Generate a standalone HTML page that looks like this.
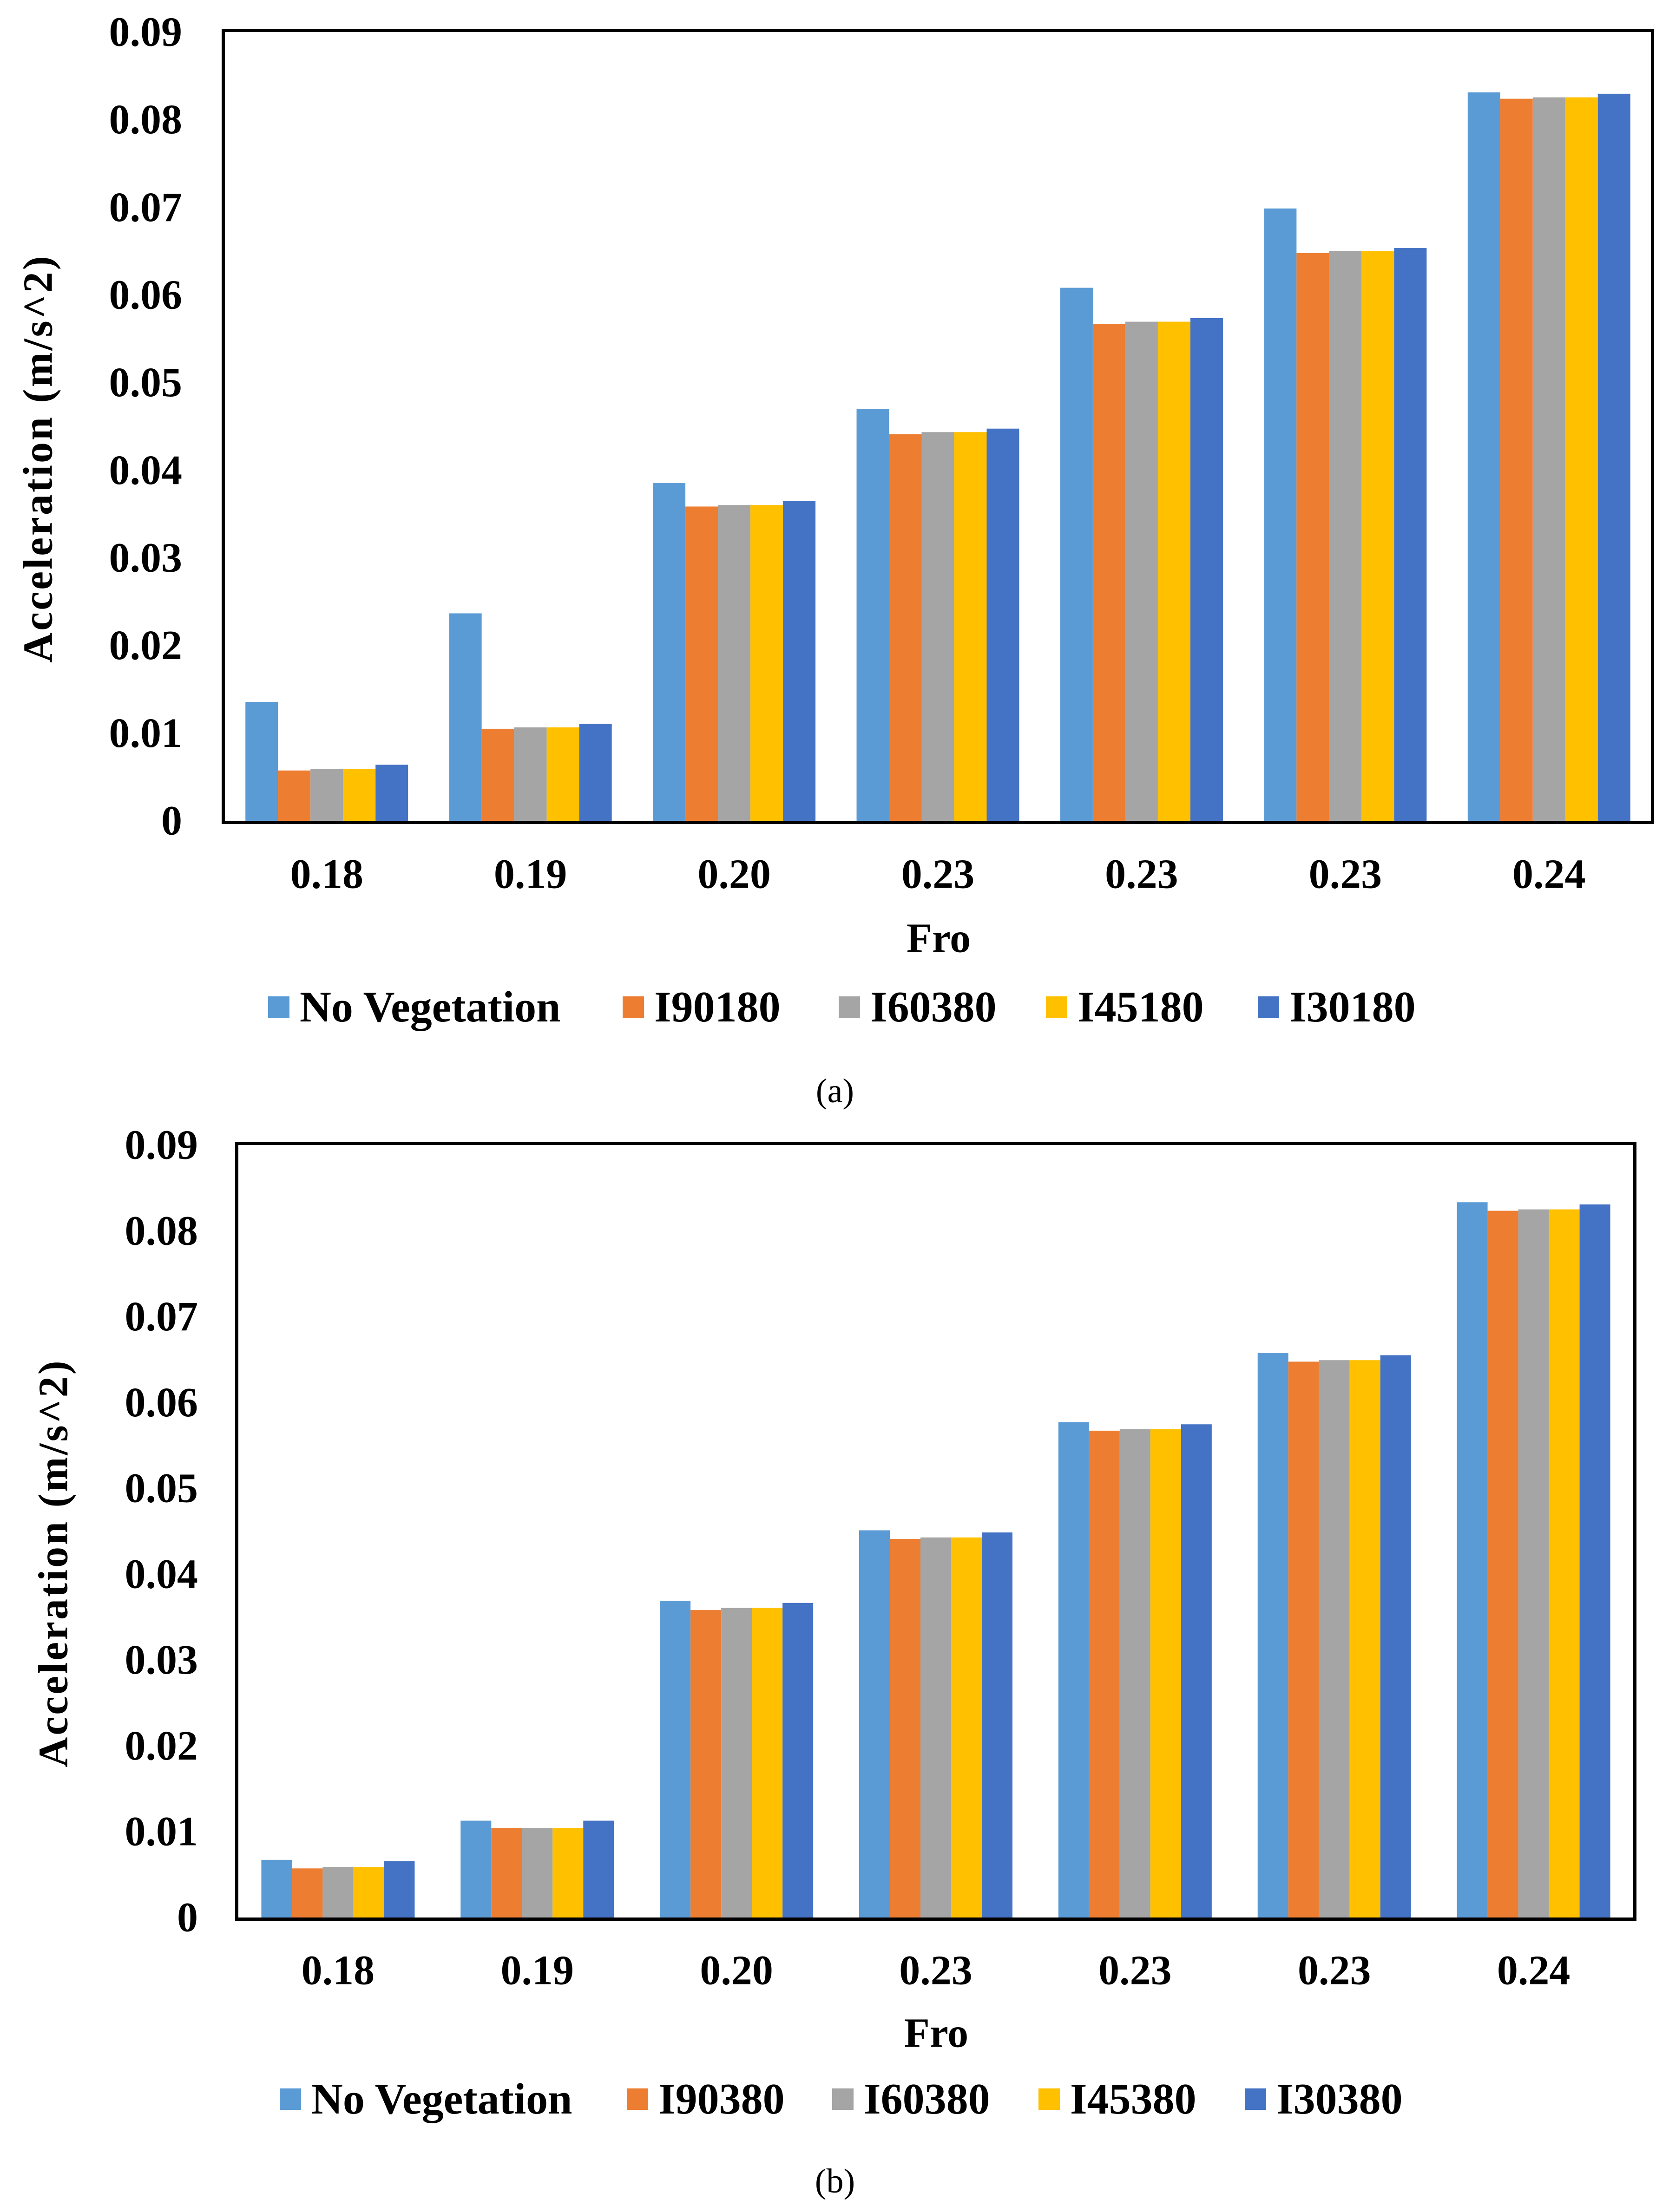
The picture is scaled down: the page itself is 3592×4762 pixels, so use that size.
<!DOCTYPE html>
<html><head><meta charset="utf-8"><style>
body{margin:0;background:#fff;width:3592px;height:4762px;overflow:hidden}
svg{display:block}
svg text{font-family:"Liberation Serif","Times New Roman",serif;font-weight:bold;fill:#000}
svg text.cap{font-weight:normal}
</style></head><body>
<svg id="s" width="3592" height="4762">
<text class="cap" x="1797" y="2356" font-size="74" text-anchor="middle" dominant-baseline="middle">(a)</text>
<text class="cap" x="1797" y="4703" font-size="74" text-anchor="middle" dominant-baseline="middle">(b)</text>
</svg>
<script>
const categories = ["0.18","0.19","0.20","0.23","0.23","0.23","0.24"];
const yTicks = [0,0.01,0.02,0.03,0.04,0.05,0.06,0.07,0.08,0.09];
const yTickLabels = ["0","0.01","0.02","0.03","0.04","0.05","0.06","0.07","0.08","0.09"];
const colors = ["#5b9bd5","#ed7d31","#a5a5a5","#ffc000","#4472c4"];
const seriesNamesA = ["No Vegetation","I90180","I60380","I45180","I30180"];
const seriesNamesB = ["No Vegetation","I90380","I60380","I45380","I30380"];
const a_noVeg = [0.01357,0.02367,0.03853,0.04701,0.06082,0.06987,0.08312];
const a_i90 = [0.00574,0.0105,0.03586,0.0441,0.0567,0.06478,0.08239];
const a_i60 = [0.0059,0.01066,0.03603,0.04435,0.05695,0.06502,0.08255];
const a_i45 = [0.0059,0.01066,0.03603,0.04435,0.05695,0.06502,0.08255];
const a_i30 = [0.0064,0.01107,0.03651,0.04475,0.05735,0.06535,0.08296];
const b_noVeg = [0.00672,0.01128,0.0369,0.04511,0.05771,0.06575,0.08333];
const b_i90 = [0.00572,0.01045,0.03582,0.04411,0.05672,0.06476,0.08234];
const b_i60 = [0.00589,0.01045,0.03607,0.04428,0.05688,0.06493,0.0825];
const b_i45 = [0.00589,0.01045,0.03607,0.04428,0.05688,0.06493,0.0825];
const b_i30 = [0.00655,0.01128,0.03665,0.04486,0.05746,0.06551,0.08308];

const svg = document.getElementById('s');
const NS = 'http://www.w3.org/2000/svg';
function mk(tag, attrs, parent){const e=document.createElementNS(NS,tag);for(const k in attrs)e.setAttribute(k,attrs[k]);(parent||svg).appendChild(e);return e;}

function chart(cfg, series, names, id){
  const g = mk('g',{});
  
  
  const {x0,x1,y0,y1} = cfg;
  const yS = v => y1 - v/0.09*(y1-y0);
  const cw = (x1-x0)/categories.length;
  const bw = cfg.bw;
  const pad = (cw - bw*5)/2;
  series.forEach((arr, si)=>{
    arr.forEach((v, ci)=>{
      const r = mk('rect',{x:x0+ci*cw+pad+si*bw, y:yS(v), width:bw, height:y1-yS(v), fill:colors[si]}, g);
      
      
    });
  });
  const frame = mk('rect',{x:x0-3.5,y:y0-3.5,width:x1-x0+7,height:y1-y0+7,fill:'none',stroke:'#000','stroke-width':7}, g);
  
  
  yTicks.forEach((t,i)=>{
    const tx = mk('text',{x:cfg.tickX, y:yS(t), 'font-size':90, 'text-anchor':'end','dominant-baseline':'central'}, g);
    tx.textContent = yTickLabels[i];
    
    
  });
  categories.forEach((c,ci)=>{
    const tx = mk('text',{x:x0+ci*cw+cw/2, y:cfg.xLabY, 'font-size':90, 'text-anchor':'middle','dominant-baseline':'central'}, g);
    tx.textContent = c;
    
    
  });
  const xt = mk('text',{x:cfg.froX, y:cfg.froY, 'font-size':90, 'text-anchor':'middle','dominant-baseline':'central'}, g);
  xt.textContent = 'Fro';
  
  
  const yt = mk('text',{x:0, y:0, 'font-size':90, 'text-anchor':'middle','dominant-baseline':'central', transform:`translate(${cfg.ytX},${cfg.ytY}) rotate(-90)`, 'letter-spacing':4}, g);
  yt.textContent = 'Acceleration (m/s^2)';
  
  
  names.forEach((n,i)=>{
    const sq = mk('rect',{x:cfg.legSq[i], y:cfg.legY-23, width:46, height:46, fill:colors[i]}, g);
    
    
    const lt = mk('text',{x:cfg.legSq[i]+68, y:cfg.legY, 'font-size':94, 'dominant-baseline':'central'}, g);
    lt.textContent = n;
    
    
  });
}
chart({x0:484,x1:3553,y0:69,y1:1767,bw:70,tickX:392,xLabY:1882,froX:2020,froY:2020,ytX:82,ytY:987,legY:2168,legSq:[577,1340,1805,2251,2707]},
  [a_noVeg,a_i90,a_i60,a_i45,a_i30], seriesNamesA, 'a');
chart({x0:513,x1:3515,y0:2465,y1:4128,bw:66,tickX:426,xLabY:4242,froX:2015,froY:4377,ytX:115,ytY:3365,legY:4519,legSq:[602,1349,1791,2235,2679]},
  [b_noVeg,b_i90,b_i60,b_i45,b_i30], seriesNamesB, 'b');
</script>
</body></html>
